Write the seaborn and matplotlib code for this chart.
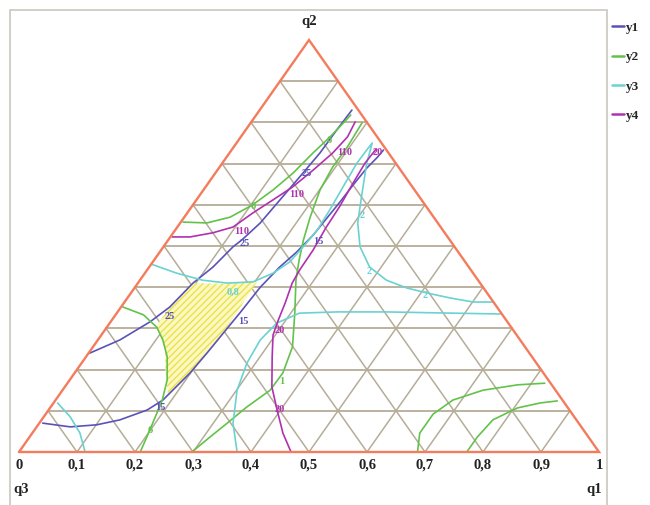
import numpy as np
import pandas as pd
import seaborn as sns
import matplotlib
matplotlib.use("Agg")
import matplotlib.pyplot as plt
from matplotlib.lines import Line2D
from matplotlib.patches import Rectangle, Polygon

# ---------------- data (ternary fractions: q1, q2 ; q3 = 1 - q1 - q2) ----------------
ticks = [0.1, 0.2, 0.3, 0.4, 0.5, 0.6, 0.7, 0.8, 0.9]
tick_labels = ["0", "0,1", "0,2", "0,3", "0,4", "0,5", "0,6", "0,7", "0,8", "0,9", "1"]

# y1 contours
y1_15_q1 = [0.006, 0.058, 0.101, 0.135, 0.170, 0.185, 0.199, 0.204, 0.208, 0.212, 0.216, 0.225, 0.236, 0.244, 0.247, 0.250, 0.252, 0.255, 0.260, 0.262]
y1_15_q2 = [0.070, 0.061, 0.066, 0.078, 0.102, 0.126, 0.192, 0.240, 0.289, 0.337, 0.400, 0.449, 0.485, 0.527, 0.568, 0.607, 0.648, 0.689, 0.714, 0.733]
y1_25_q1 = [0.002, 0.038, 0.068, 0.084, 0.095, 0.110, 0.120, 0.127, 0.138, 0.144, 0.150, 0.156, 0.157, 0.159]
y1_25_q2 = [0.240, 0.272, 0.316, 0.352, 0.410, 0.449, 0.498, 0.515, 0.556, 0.612, 0.667, 0.726, 0.782, 0.830]

# y2 contours
y2_a_q1 = [0.004, 0.046, 0.079, 0.103, 0.120, 0.134, 0.144, 0.154, 0.160, 0.163]
y2_a_q2 = [0.558, 0.556, 0.570, 0.600, 0.636, 0.677, 0.726, 0.765, 0.799, 0.818]
y2_b_q1 = [0.192, 0.196, 0.195, 0.201, 0.217, 0.233, 0.250, 0.269, 0.307, 0.344, 0.359, 0.358, 0.338, 0.324, 0.311, 0.298]
y2_b_q2 = [0.799, 0.740, 0.692, 0.636, 0.570, 0.515, 0.466, 0.417, 0.337, 0.255, 0.192, 0.150, 0.109, 0.070, 0.036, 0.000]
y2_c_q1 = [0.003, 0.048, 0.086, 0.112, 0.140, 0.168, 0.184, 0.199, 0.209]
y2_c_q2 = [0.352, 0.333, 0.303, 0.272, 0.231, 0.175, 0.126, 0.053, 0.000]
y2_d_q1 = [0.687, 0.668, 0.668, 0.685, 0.725, 0.778, 0.823]
y2_d_q2 = [0.000, 0.046, 0.092, 0.126, 0.150, 0.163, 0.167]
y2_e_q1 = [0.772, 0.772, 0.778, 0.806, 0.839, 0.866]
y2_e_q2 = [0.000, 0.036, 0.078, 0.107, 0.119, 0.124]

# y3 contours
y3_a_q1 = [0.007, 0.046, 0.082, 0.114]
y3_a_q2 = [0.119, 0.085, 0.046, 0.000]
y3_b_q1 = [0.000, 0.055, 0.108, 0.154, 0.197, 0.221, 0.236, 0.241, 0.245, 0.242, 0.237, 0.232, 0.233, 0.234,
           0.249, 0.281, 0.306, 0.339, 0.380, 0.425, 0.470, 0.510, 0.556, 0.601, 0.635]
y3_b_q2 = [0.456, 0.434, 0.417, 0.410, 0.413, 0.434, 0.461, 0.498, 0.539, 0.587, 0.643, 0.701, 0.733, 0.750,
           0.701, 0.619, 0.556, 0.498, 0.449, 0.417, 0.398, 0.386, 0.374, 0.364, 0.364]
y3_c_q1 = [0.376, 0.334, 0.301, 0.285, 0.280, 0.288, 0.315, 0.378, 0.464, 0.579, 0.662]
y3_c_q2 = [0.000, 0.070, 0.150, 0.216, 0.272, 0.313, 0.337, 0.340, 0.340, 0.337, 0.335]

# y4 contours
y4_a_q1 = [0.003, 0.034, 0.068, 0.096, 0.113, 0.132, 0.150, 0.165, 0.178, 0.184, 0.179]
y4_a_q2 = [0.522, 0.522, 0.532, 0.546, 0.580, 0.612, 0.643, 0.684, 0.726, 0.765, 0.801]
y4_b_q1 = [0.248, 0.246, 0.250, 0.255, 0.257, 0.262, 0.263, 0.266, 0.278, 0.287, 0.296, 0.321, 0.357, 0.394, 0.432, 0.469]
y4_b_q2 = [0.735, 0.701, 0.648, 0.595, 0.544, 0.490, 0.442, 0.410, 0.362, 0.320, 0.284, 0.231, 0.158, 0.102, 0.046, 0.000]

# feasible (hatched) region
region_q1 = [0.095, 0.151, 0.204, 0.206, 0.208, 0.204, 0.199, 0.189, 0.153, 0.128, 0.084, 0.084]
region_q2 = [0.410, 0.408, 0.413, 0.350, 0.289, 0.240, 0.192, 0.136, 0.199, 0.248, 0.308, 0.352]

# contour labels
lab_text = ["15", "15", "15", "25", "25", "25",
            "110", "110", "110", "20", "20", "20",
            "6", "6", "1", "6",
            "0,8", "2", "2", "2"]
lab_series = ["y1"] * 6 + ["y4"] * 6 + ["y2"] * 4 + ["y3"] * 4
lab_q1 = [0.190, 0.228, 0.260, 0.096, 0.136, 0.158,
          0.117, 0.167, 0.198, 0.255, 0.302, 0.398,
          0.106, 0.157, 0.367, 0.199,
          0.175, 0.305, 0.385, 0.511]
lab_q2 = [0.107, 0.316, 0.512, 0.328, 0.507, 0.677,
          0.534, 0.624, 0.728, 0.728, 0.296, 0.104,
          0.595, 0.757, 0.172, 0.053,
          0.388, 0.573, 0.439, 0.379]

series_names = ["y1", "y2", "y3", "y4"]
series_colors = {"y1": "#5a52b8", "y2": "#62c24a", "y3": "#6ad2d2", "y4": "#b030b0"}

curves = [
    ("y1", y1_15_q1, y1_15_q2), ("y1", y1_25_q1, y1_25_q2),
    ("y2", y2_a_q1, y2_a_q2), ("y2", y2_b_q1, y2_b_q2), ("y2", y2_c_q1, y2_c_q2),
    ("y2", y2_d_q1, y2_d_q2), ("y2", y2_e_q1, y2_e_q2),
    ("y3", y3_a_q1, y3_a_q2), ("y3", y3_b_q1, y3_b_q2), ("y3", y3_c_q1, y3_c_q2),
    ("y4", y4_a_q1, y4_a_q2), ("y4", y4_b_q1, y4_b_q2),
]


def tern(q1, q2):
    q1 = np.asarray(q1, float)
    q2 = np.asarray(q2, float)
    return q1 + q2 / 2.0, q2


# ---------------- figure ----------------
sns.set_style("white")
plt.rcParams["font.family"] = ["Liberation Serif", "DejaVu Serif"]

fig = plt.figure(figsize=(6.5, 5.05), dpi=100)
ax = fig.add_axes([19 / 650, 53 / 505, 580 / 650, 412 / 505])
ax.set_xlim(0, 1)
ax.set_ylim(0, 1)
ax.axis("off")

# outer frame
fig.add_artist(Rectangle((10 / 650, -0.02), 597 / 650, 1.02 - 10 / 505,
                         transform=fig.transFigure, fill=False,
                         edgecolor="#c9c7bd", lw=1.2))

grid_c = "#b5ad97"
for t in ticks:
    # constant q2 (horizontal)
    ax.plot([t / 2, 1 - t / 2], [t, t], color=grid_c, lw=1.3, zorder=1)
    # constant q1 lines and constant q3 lines
    ax.plot([t, t / 2], [0, t], color=grid_c, lw=1.1, zorder=1)
    ax.plot([t, t + (1 - t) / 2], [0, 1 - t], color=grid_c, lw=1.1, zorder=1)

# hatched feasible region
rx, ry = tern(region_q1, region_q2)
ax.add_patch(Polygon(np.column_stack([rx, ry]), closed=True,
                     facecolor="#fbf8c4", edgecolor="#ebe24a", hatch="/////",
                     lw=0, zorder=2))

# contour lines
for name, q1, q2 in curves:
    x, y = tern(q1, q2)
    df = pd.DataFrame({"x": x, "y": y})
    sns.lineplot(data=df, x="x", y="y", sort=False, estimator=None,
                 color=series_colors[name], lw=1.2, ax=ax, zorder=3)

# triangle border
ax.plot([0, 1, 0.5, 0], [0, 0, 1, 0], color="#f47b5b", lw=1.7, zorder=4,
        clip_on=False, solid_joinstyle="miter")

# contour labels
for t, s, a, b in zip(lab_text, lab_series, lab_q1, lab_q2):
    x, y = tern([a], [b])
    ax.text(x[0], y[0], t, color=series_colors[s], fontsize=7.5, fontweight="bold",
            ha="center", va="center", zorder=5)

# tick labels along bottom
for i, lab in enumerate(tick_labels):
    ax.text(i / 10, -0.032, lab, ha="center", va="center", fontsize=10.5,
            fontweight="bold", color="#222222", clip_on=False)

ax.text(0.004, -0.092, "q3", ha="center", va="center", fontsize=10.5, fontweight="bold",
        color="#222222", clip_on=False)
ax.text(0.991, -0.092, "q1", ha="center", va="center", fontsize=10.5, fontweight="bold",
        color="#222222", clip_on=False)
ax.text(0.5, 1.044, "q2", ha="center", va="center", fontsize=10.5, fontweight="bold",
        color="#222222", clip_on=False)

# legend
handles = [Line2D([], [], color=series_colors[n], lw=1.8) for n in series_names]
fig.legend(handles, series_names, loc="upper left", bbox_to_anchor=(0.9415, 0.957),
           frameon=False, handlelength=0.9, handletextpad=0.15, labelspacing=1.3,
           prop={"family": "Liberation Serif", "size": 9.5, "weight": "bold"},
           borderaxespad=0, borderpad=0)

fig.savefig("out.png", dpi=100)
